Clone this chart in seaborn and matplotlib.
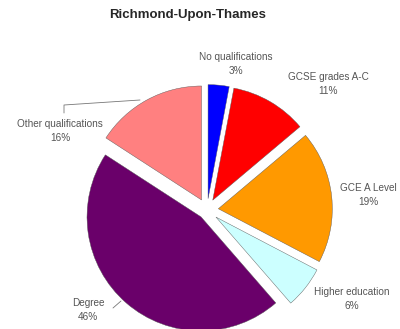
import matplotlib
matplotlib.use("Agg")
import matplotlib.pyplot as plt
from matplotlib.lines import Line2D
import seaborn as sns

# Richmond-Upon-Thames qualifications
categories = ["No qualifications", "GCSE grades A-C", "GCE A Level",
              "Higher education", "Degree", "Other qualifications"]
shares = [3, 11, 19, 6, 46, 16]
colors = ["#0000FF", "#FF0000", "#FF9900", "#CCFFFF", "#6A006A", "#FF8080"]
explode = [0.1, 0.1, 0.1, 0.1, 0.08, 0.1]

sns.set_style("white")
plt.rcParams['font.family'] = ['Liberation Sans', 'DejaVu Sans']

W, H = 400, 329
fig = plt.figure(figsize=(W / 100, H / 100), dpi=100)


def px(x, y):
    # pixel position (from top-left) -> figure fraction
    return x / W, 1 - y / H


# pie centre ~ (207, 210) px, radius ~ 114 px
size = 285
ax = fig.add_axes([(207 - size / 2) / W, (H - 210 - size / 2) / H, size / W, size / H])
ax.pie(shares, colors=colors, explode=explode, startangle=90, counterclock=False,
       wedgeprops=dict(edgecolor="#555555", linewidth=0.3))
ax.set_xlim(-1.25, 1.25)
ax.set_ylim(-1.25, 1.25)
ax.set_aspect("equal")
ax.axis("off")

# label positions (px centres)
label_pos = [(236, 64), (328, 84), (368, 195), (352, 299), (88, 310), (60, 131)]
for c, s, (x, y) in zip(categories, shares, label_pos):
    fig.text(*px(x, y), f"{c}\n{s}%", ha="center", va="center", fontsize=7.2,
             color="#555555", linespacing=1.5)

# leader lines
for xs, ys in [([64, 64, 140], [113, 105, 100]), ([113, 121], [308, 301])]:
    fx = [x / W for x in xs]
    fy = [1 - y / H for y in ys]
    fig.add_artist(Line2D(fx, fy, color="#777777", linewidth=0.6))

fig.text(*px(188, 15), "Richmond-Upon-Thames", ha="center", va="center",
         fontsize=9.5, fontweight="bold")

fig.savefig("out.png", dpi=100)
